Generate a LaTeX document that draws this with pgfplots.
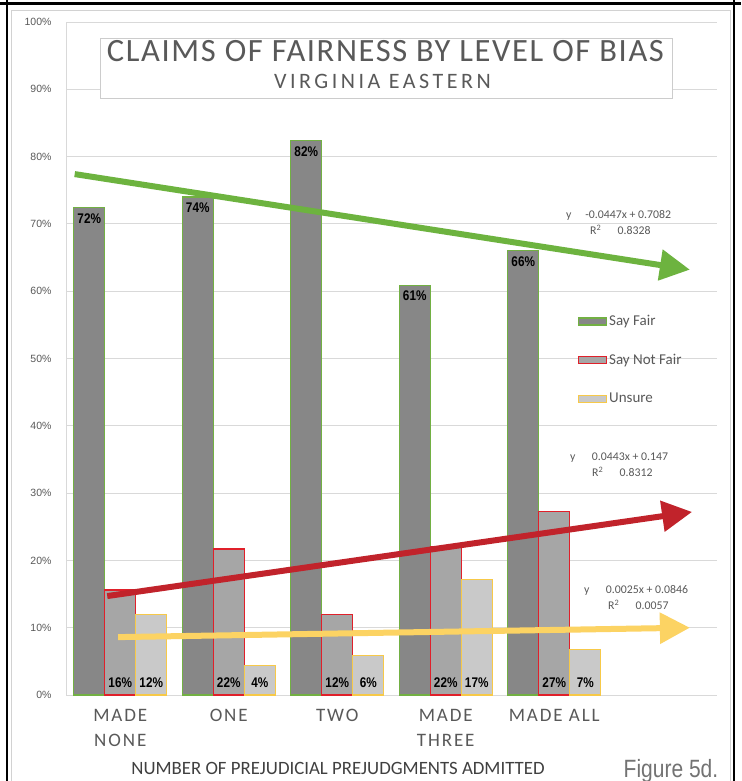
\documentclass[border=0pt]{standalone}
\usepackage{fontspec}
\setmainfont{Carlito}
\newfontfamily\narrow{Liberation Sans}[FakeStretch=0.84]
\newfontfamily\arial{Liberation Sans}
\usepackage{pgfplots}
\pgfplotsset{compat=1.18}
\usetikzlibrary{arrows.meta}
\definecolor{txt}{HTML}{595959}
\definecolor{fFair}{HTML}{878787}
\definecolor{fNot}{HTML}{A6A6A6}
\definecolor{fUns}{HTML}{C9C9C9}
\definecolor{eFair}{HTML}{72B043}
\definecolor{eNot}{HTML}{E0202A}
\definecolor{eUns}{HTML}{F7C948}
\definecolor{aG}{HTML}{6DB33F}
\definecolor{aR}{HTML}{C1232B}
\definecolor{aY}{HTML}{FCD363}
\begin{document}
\begin{tikzpicture}[x=1pt,y=1pt]
\fill[white] (0,0) rectangle (741,781);
\draw[gray!35, line width=0.8pt] (11,-2) rectangle (730,771);
\begin{axis}[
  at={(66pt,86pt)}, anchor=south west,
  scale only axis, width=651pt, height=673pt,
  xmin=0.5, xmax=6.5, ymin=0, ymax=100,
  ybar=0pt, bar width=31pt,
  /pgf/number format/assume math mode=true,
  axis x line*=bottom, axis y line*=left,
  axis line style={draw=gray!30, line width=0.8pt},
  major tick length=0pt,
  ymajorgrids, grid style={draw=gray!30, line width=0.8pt},
  ytick={0,10,...,100},
  yticklabel={\pgfmathprintnumber{\tick}\%},
  yticklabel style={font=\arial\fontsize{10.5}{11}\selectfont, text=txt, xshift=-11pt},
  xtick={1,2,3,4,5},
  xticklabels={{MADE\\NONE},ONE,TWO,{MADE\\THREE},MADE ALL},
  xticklabel style={align=center, text=txt, yshift=-11pt,
    font=\fontsize{19}{25}\selectfont\addfontfeatures{LetterSpace=10}},
  legend image code/.code={\draw[#1] (0pt,-3.5pt) rectangle (28pt,3.5pt);},
  legend style={at={(axis cs:5.19,57.0)}, anchor=north west, draw=none, fill=none,
    font=\fontsize{15}{16}\selectfont, text=txt, row sep=23pt,
    /tikz/every even column/.append style={column sep=1pt}},
  legend cell align=left,
  clip=false,
]
\addplot[fill=fFair, draw=eFair, line width=1.1pt,
  nodes near coords={\pgfmathprintnumber[fixed,precision=0]{\pgfplotspointmeta}\%},
  every node near coord/.append style={anchor=north, yshift=-2pt, text=black,
    font=\narrow\bfseries\fontsize{14}{14}\selectfont}]
  coordinates {(1,72.4) (2,74.0) (3,82.4) (4,60.9) (5,66.0)};
\addlegendentry{Say Fair}
\addplot[fill=fNot, draw=eNot, line width=1.1pt,
  visualization depends on={y \as \rawy},
  nodes near coords={\pgfmathprintnumber[fixed,precision=0]{\pgfplotspointmeta}\%},
  every node near coord/.append style={anchor=center, yshift={-\rawy*6.73pt+12pt}, text=black,
    font=\narrow\bfseries\fontsize{14}{14}\selectfont}]
  coordinates {(1,15.6) (2,21.7) (3,11.9) (4,22.0) (5,27.3)};
\addlegendentry{Say Not Fair}
\addplot[fill=fUns, draw=eUns, line width=1.1pt,
  visualization depends on={y \as \rawy},
  nodes near coords={\pgfmathprintnumber[fixed,precision=0]{\pgfplotspointmeta}\%},
  every node near coord/.append style={anchor=center, yshift={-\rawy*6.73pt+12pt}, text=black,
    font=\narrow\bfseries\fontsize{14}{14}\selectfont}]
  coordinates {(1,11.9) (2,4.4) (3,5.9) (4,17.2) (5,6.8)};
\addlegendentry{Unsure}
\addplot[sharp plot, forget plot, no marks, draw=aG, line width=6pt,
  -{Triangle[length=30pt,width=30pt]}]
  coordinates {(0.58,77.4) (6.25,63.2)};
\addplot[sharp plot, forget plot, no marks, draw=aR, line width=6pt,
  -{Triangle[length=30pt,width=30pt]}]
  coordinates {(0.88,14.7) (6.27,27.2)};
\addplot[sharp plot, forget plot, no marks, draw=aY, line width=6pt,
  -{Triangle[length=30pt,width=30pt]}]
  coordinates {(0.98,8.6) (6.25,10.0)};
\end{axis}
% frame lines
\draw[line width=3pt] (0,777) -- (741,777);
\draw[line width=2.6pt] (7,0) -- (7,781);
\draw[line width=2pt] (733.5,0) -- (733.5,781);
% title box
\draw[gray!40, fill=white, line width=0.8pt] (100,743) rectangle (672,683);
\node[anchor=base, text=txt, font=\fontsize{32.5}{33}\selectfont\addfontfeatures{LetterSpace=5}] at (385.5,719) {CLAIMS OF FAIRNESS BY LEVEL OF BIAS};
\node[anchor=base, text=txt, font=\fontsize{22}{23}\selectfont\addfontfeatures{LetterSpace=16}] at (382.5,692) {VIRGINIA EASTERN};
% trend equations
\begin{scope}[every node/.style={anchor=base west, text=txt, font=\fontsize{11.8}{12}\selectfont, inner sep=0pt}]
\node at (566,562) {y\quad\,-0.0447x + 0.7082};
\node at (590,546) {R\textsuperscript{2}\quad\, 0.8328};
\node at (570,320) {y\quad\, 0.0443x + 0.147};
\node at (592,304) {R\textsuperscript{2}\quad\, 0.8312};
\node at (584,187) {y\quad\, 0.0025x + 0.0846};
\node at (608,171) {R\textsuperscript{2}\quad\, 0.0057};
\end{scope}
\node[anchor=base, text=black!75, font=\fontsize{18.8}{20}\selectfont] at (338,6) {NUMBER OF PREJUDICIAL PREJUDGMENTS ADMITTED};
\node[anchor=base, text=black!55, font=\narrow\fontsize{25}{26}\selectfont] at (671,4) {Figure 5d.};
\pgfresetboundingbox
\useasboundingbox (0,0) rectangle (741,781);
\end{tikzpicture}
\end{document}
